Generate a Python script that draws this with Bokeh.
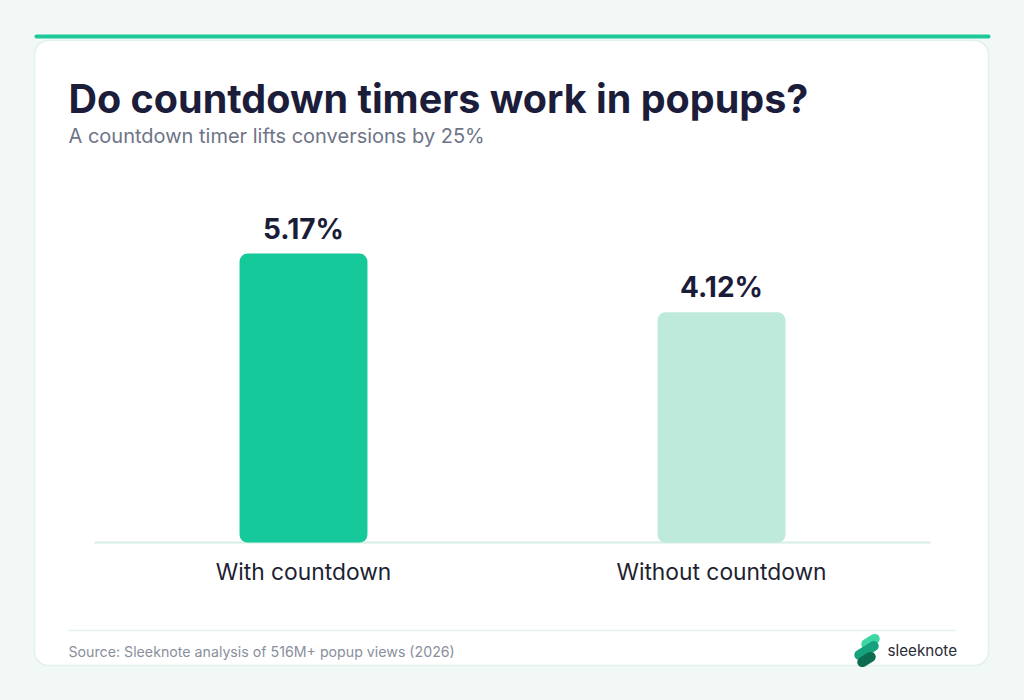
from bokeh.plotting import figure
from bokeh.models import Range1d
from bokeh.core.properties import value
from bokeh.embed import file_html
from bokeh.resources import INLINE

# ---- data ----
categories = ["With countdown", "Without countdown"]
conversion = [5.17, 4.12]
value_labels = ["5.17%", "4.12%"]
bar_colors = ["#16c99a", "#bdeadb"]

title = "Do countdown timers work in popups?"
subtitle = "A countdown timer lifts conversions by 25%"
source = "Source: Sleeknote analysis of 516M+ popup views (2026)"
brand = "sleeknote"

W, H = 1008, 684
BG = "#f2f8f6"
FONT = "Inter"

# category slots (one unit per category, centred on i + 0.5)
cat_x = [i + 0.5 for i in range(len(categories))]

p = figure(width=W, height=H, x_range=Range1d(0, W), y_range=Range1d(H, 0),
           toolbar_location=None, output_backend="svg",
           x_axis_location=None, y_axis_location=None,
           min_border=0, outline_line_color=None,
           background_fill_color=BG, border_fill_color=BG)
p.grid.visible = False

# extra ranges for the data: category band spans 94..930 px, value 0 at 542 px
p.extra_x_ranges = {"cat": Range1d(-94 / 418, len(categories) + (W - 930) / 418)}
p.extra_y_ranges = {"val": Range1d(-(H - 542) / 55.88, 542 / 55.88)}

# card
p.quad(left=[34], right=[988], top=[40], bottom=[665],
       fill_color="white", line_color="#e2f1ec", line_width=1.5, border_radius=14)
# top strip
p.quad(left=[34], right=[990], top=[34], bottom=[38],
       fill_color="#1dc99a", line_color=None, border_radius=2)

# titles
p.text(x=[68], y=[98], text=[title], text_font=value(FONT), text_font_style="bold",
       text_font_size="39.5px", text_color="#1c1d3a", text_baseline="middle")
p.text(x=[68], y=[135], text=[subtitle], text_font=value(FONT),
       text_font_size="20px", text_color="#6e7487", text_baseline="middle")

# baseline
p.segment(x0=[94], x1=[930], y0=[542], y1=[542],
          line_color="#d6eee5", line_width=2)

# bars
p.vbar(x=cat_x, top=conversion, bottom=0, width=0.306,
       x_range_name="cat", y_range_name="val",
       fill_color=bar_colors, line_color=None, border_radius=8)

# value labels
p.text(x=cat_x, y=conversion, text=value_labels,
       x_range_name="cat", y_range_name="val", y_offset=-25,
       text_font=value(FONT), text_font_style="bold", text_font_size="28px",
       text_color="#1b1c38", text_align="center", text_baseline="middle")

# category labels
p.text(x=cat_x, y=[571, 571], text=categories, x_range_name="cat",
       text_font=value(FONT), text_font_size="22.8px", text_color="#1e1f33",
       text_align="center", text_baseline="middle")

# footer
p.segment(x0=[68], x1=[955], y0=[630], y1=[630],
          line_color="#e4f2ed", line_width=1.5)
p.text(x=[68], y=[651], text=[source], text_font=value(FONT),
       text_font_size="14.2px", text_color="#8a8f9c", text_baseline="middle")

# logo
p.rect(x=[870, 866, 866], y=[641, 650, 659],
       width=[20, 27, 20], height=[10, 10, 10], angle=[0.55, 0.55, 0.55],
       fill_color=["#3fd6a6", "#17a27e", "#0d6b50"], line_color=None, border_radius=5)
p.text(x=[887], y=[650], text=[brand], text_font=value(FONT),
       text_font_size="15.2px", text_color="#2a2a35", text_baseline="middle")

tmpl = """{% block preamble %}<style>html, body { background: #f2f8f6; }</style>{% endblock %}"""
try:
    html = file_html(p, INLINE, template=tmpl)
except Exception:
    html = file_html(p, INLINE)
open("out.html", "w").write(html)
